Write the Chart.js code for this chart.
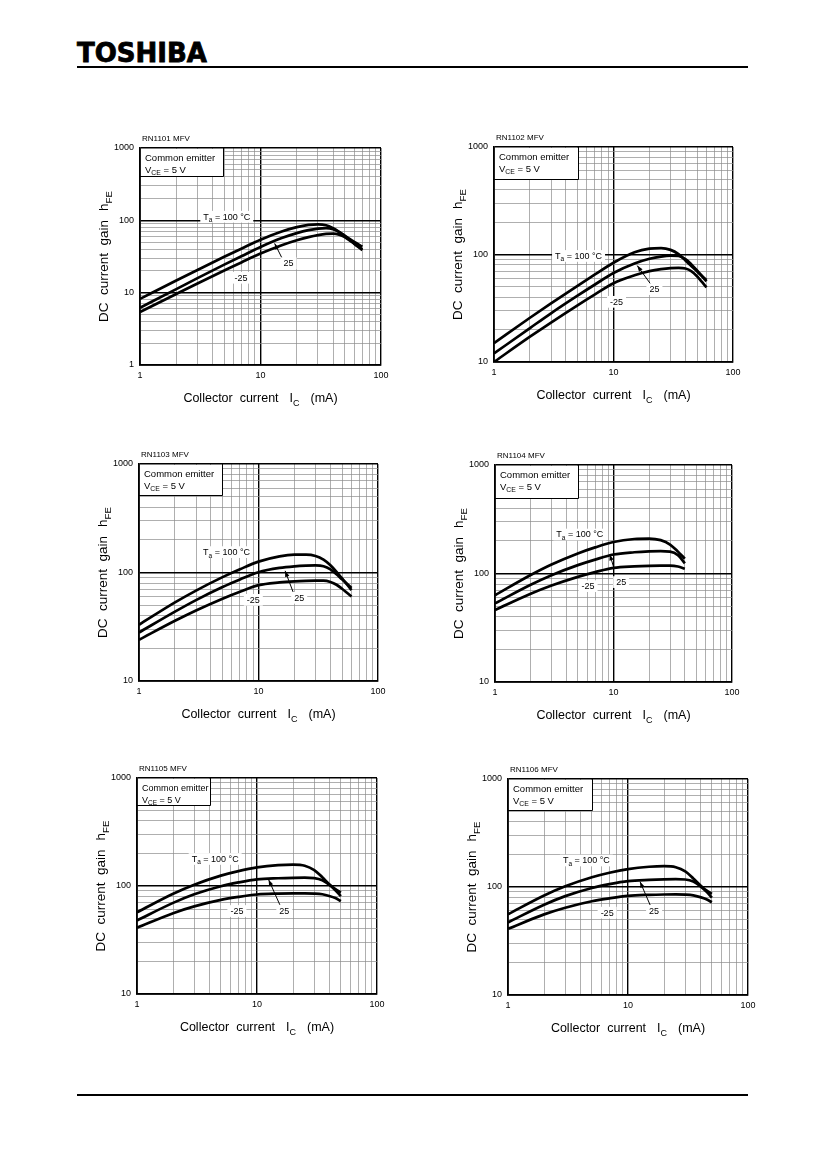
<!DOCTYPE html>
<html><head><meta charset="utf-8">
<script src="https://cdn.jsdelivr.net/npm/chart.js@4.4.1/dist/chart.umd.min.js"></script>
<style>
html,body{margin:0;padding:0;background:#fff;}
body{width:827px;height:1169px;position:relative;overflow:hidden;font-family:"Liberation Sans",Arial,sans-serif;}
.logo{position:absolute;left:77px;top:38px;font-family:"DejaVu Sans",sans-serif;font-weight:bold;font-size:26px;line-height:30px;color:#000;white-space:nowrap;-webkit-text-stroke:0.8px #000;}
.hline{position:absolute;left:77px;width:671px;background:#000;}
canvas{position:absolute;}
</style></head><body>
<div class="logo">TOSHIBA</div>
<div class="hline" style="top:66px;height:1.5px"></div>
<div class="hline" style="top:1094px;height:2px"></div>
<script>
// ---------- data ----------
const modelNames = ['RN1101 MFV','RN1102 MFV','RN1103 MFV','RN1104 MFV','RN1105 MFV','RN1106 MFV'];
const seriesNames = ['Ta = 100 °C','25','-25'];
const xTickLabels = [1, 10, 100];
const yTickLabelsWide = [1, 10, 100, 1000];
const yTickLabels = [10, 100, 1000];

// RN1101  (IC in mA, hFE)
const ic1      = [1, 2, 3, 5, 7, 10, 15, 20, 25, 30, 35, 40, 45, 50, 60, 70];
const hfe1_100 = [8.2, 14.7, 20.6, 31.3, 40.9, 53.9, 70.0, 80.4, 86.3, 88.1, 85.5, 77.8, 69.2, 61.5, 50.4, 43.2];
const hfe1_25  = [6.2, 11.2, 15.9, 24.4, 32.1, 42.8, 56.8, 66.5, 73.1, 76.9, 78.2, 75.5, 68.7, 60.5, 47.8, 39.7];
const hfe1_m25 = [5.4, 9.6, 13.4, 20.2, 26.4, 34.7, 45.3, 53.1, 58.7, 62.6, 64.9, 65.3, 63.4, 58.9, 47.3, 38.7];
// RN1102
const ic2      = [1, 2, 3, 5, 7, 10, 15, 20, 25, 30, 35, 40, 45, 50, 55, 60];
const hfe2_100 = [15, 25.8, 35.1, 51.2, 65.2, 83.8, 104.7, 113.2, 114.5, 110.4, 100.7, 88.1, 77.8, 69.7, 63.1, 57.8];
const hfe2_25  = [12, 20.7, 28.4, 41.4, 52.6, 67.3, 82.4, 91.2, 95.7, 97.5, 96.8, 90.6, 80.5, 71.0, 62.8, 56.1];
const hfe2_m25 = [10, 17.2, 23.3, 33.7, 42.6, 54.1, 64.1, 70.0, 73.1, 74.7, 75.0, 74.0, 69.7, 62.7, 55.5, 49.5];
// RN1103
const ic3      = [1, 2, 3, 5, 7, 10, 15, 20, 25, 30, 35, 40, 45, 50, 55, 60];
const hfe3_100 = [33, 53, 68.1, 90.6, 107.2, 125.9, 141, 145.9, 145.9, 141.9, 131.2, 116.4, 101.2, 88.1, 77.6, 68.7];
const hfe3_25  = [28, 43.6, 55.7, 73.5, 86.3, 100.7, 110.2, 114, 115.6, 116.1, 114.3, 106.9, 96.2, 86.5, 78.7, 72.1];
const hfe3_m25 = [24, 35.9, 44.7, 57.4, 66.5, 76.4, 81.1, 83, 83.8, 84.1, 84.1, 81.8, 77.1, 70.8, 65, 60.1];
// RN1104
const ic4      = [1, 2, 3, 5, 7, 10, 15, 20, 25, 30, 35, 40];
const hfe4_100 = [63, 96.8, 121, 153, 174, 195, 208, 210, 203, 185, 159, 137];
const hfe4_25  = [53, 78.7, 96.4, 119.4, 134.3, 149.6, 157, 160, 160.7, 159.2, 147.6, 124.2];
const hfe4_m25 = [46, 65, 77.4, 93.1, 103, 112.7, 116.4, 117.8, 118.1, 118.1, 115.9, 110.7];
// RN1105
const ic5      = [1, 2, 3, 5, 7, 10, 15, 20, 25, 30, 35, 40, 45, 50];
const hfe5_100 = [57, 84.7, 102.8, 124.7, 137.4, 148.6, 156, 157.8, 154.2, 140.6, 120.5, 104, 93.5, 86.9];
const hfe5_25  = [48, 69.8, 83.8, 99.6, 107.9, 115.1, 118, 119.1, 119.4, 118.3, 113, 102.8, 91.4, 80.5];
const hfe5_m25 = [41, 56, 64.7, 74.3, 79.2, 83.4, 85.1, 85.6, 85.6, 85.1, 83.8, 80.9, 77.3, 72.4];
// RN1106
const ic6      = [1, 2, 3, 5, 7, 10, 15, 20, 25, 30, 35, 40, 45, 50];
const hfe6_100 = [56, 83.5, 101.5, 123, 135.5, 146.5, 154, 156, 152.5, 139.5, 120, 104, 93, 86.5];
const hfe6_25  = [47, 68.5, 82.3, 98, 106.3, 113.4, 116.5, 117.8, 118.2, 117.3, 112.2, 102, 90.6, 79.6];
const hfe6_m25 = [41, 55.8, 64.3, 73.8, 78.6, 82.8, 84.6, 85.2, 85.3, 84.9, 83.6, 80.6, 77, 72.2];

// ---------- layout (page positions of each plot area) ----------
const FONT = '"Liberation Sans", Arial, sans-serif';
const panels = [
  {name: modelNames[0], rect: [140,148,381,365], yMin: 1,  yLabels: yTickLabelsWide, ic: ic1, s: [hfe1_100,hfe1_25,hfe1_m25], box: [83,28,9.5],
   ta: [5.25,113], n25: [17.1,25.6], arr: [[15,30.6],[13.1,48]], m25: [6.9,16.2]},
  {name: modelNames[1], rect: [494,147,733,362], yMin: 10, yLabels: yTickLabels, ic: ic2, s: [hfe2_100,hfe2_25,hfe2_m25], box: [84,32,9.5],
   ta: [5.1,97.5], n25: [22,47.9], arr: [[20.5,52.9],[15.8,78.8]], m25: [10.6,36.5]},
  {name: modelNames[2], rect: [139,464,378,681], yMin: 10, yLabels: yTickLabels, ic: ic3, s: [hfe3_100,hfe3_25,hfe3_m25], box: [83,31,9.5],
   ta: [5.4,155], n25: [21.9,58.8], arr: [[19.6,64.9],[16.7,103.6]], m25: [9.05,56.3]},
  {name: modelNames[3], rect: [495,465,732,682], yMin: 10, yLabels: yTickLabels, ic: ic4, s: [hfe4_100,hfe4_25,hfe4_m25], box: [83,33,9.5],
   ta: [5.2,230], n25: [11.6,83.8], arr: [[10.07,112.8],[9.3,150]], m25: [6.1,76.9]},
  {name: modelNames[4], rect: [137,778,377,994], yMin: 10, yLabels: yTickLabels, ic: ic5, s: [hfe5_100,hfe5_25,hfe5_m25], box: [73,27,9],
   ta: [4.48,179], n25: [16.9,59], arr: [[15.5,67],[12.5,114.5]], m25: [6.8,59]},
  {name: modelNames[5], rect: [508,779,748,995], yMin: 10, yLabels: yTickLabels, ic: ic6, s: [hfe6_100,hfe6_25,hfe6_m25], box: [84,31,9.5],
   ta: [4.5,177], n25: [16.5,60.4], arr: [[15.3,68],[12.6,112]], m25: [6.7,58.2]}
];
const PL = 70, PT = 30, PR = 20, PB = 50;

function gridValues(min, max) {
  const out = [];
  for (let d = min; d < max; d *= 10) for (let k = 1; k < 10; k++) out.push(d * k);
  out.push(max);
  return out;
}
function isMajor(v) { const l = Math.log10(v); return Math.abs(l - Math.round(l)) < 1e-9; }

// draw a run of text parts (normal / subscript) starting at x on baseline y; returns width
function drawParts(ctx, parts, x, y, size, measureOnly) {
  let cx = x;
  for (const p of parts) {
    if (p.gap) { cx += p.gap; continue; }
    const fs = p.sub ? size * 0.72 : size;
    ctx.font = fs + 'px ' + FONT;
    if (!measureOnly) ctx.fillText(p.t, cx, p.sub ? y + size * 0.28 : y);
    cx += ctx.measureText(p.t).width;
  }
  return cx - x;
}

function labelAt(ctx, chart, pos, parts, size) {
  const x = chart.scales.x.getPixelForValue(pos[0]);
  const y = chart.scales.y.getPixelForValue(pos[1]);
  ctx.textAlign = 'left'; ctx.textBaseline = 'alphabetic';
  const w = drawParts(ctx, parts, 0, 0, size, true);
  ctx.fillStyle = '#fff';
  ctx.fillRect(x - w / 2 - 3, y - size * 0.62, w + 6, size * 1.3);
  ctx.fillStyle = '#000';
  drawParts(ctx, parts, x - w / 2, y + size * 0.36, size);
}

const decorPlugin = {
  id: 'decor',
  beforeDatasetsDraw(chart) {
    const p = chart.options.plugins.decor.panel;
    const ctx = chart.ctx, a = chart.chartArea;
    const [bw, bh, fs] = p.box;
    ctx.save();
    ctx.fillStyle = '#fff';
    ctx.fillRect(a.left + 1, a.top + 1, bw - 1, bh - 1);
    ctx.strokeStyle = '#000'; ctx.lineWidth = 1;
    ctx.beginPath();
    ctx.moveTo(a.left + bw + 0.5, a.top); ctx.lineTo(a.left + bw + 0.5, a.top + bh + 0.5);
    ctx.lineTo(a.left, a.top + bh + 0.5);
    ctx.stroke();
    ctx.fillStyle = '#000'; ctx.textAlign = 'left'; ctx.textBaseline = 'alphabetic';
    drawParts(ctx, [{t: 'Common emitter'}], a.left + 5, a.top + 13, fs);
    drawParts(ctx, [{t: 'V'}, {t: 'CE', sub: true}, {t: ' = 5 V'}], a.left + 5, a.top + 24.5, fs);
    ctx.restore();
  },
  afterDatasetsDraw(chart) {
    const p = chart.options.plugins.decor.panel;
    const ctx = chart.ctx;
    ctx.save();
    const xs = chart.scales.x, ys = chart.scales.y;
    const x0 = xs.getPixelForValue(p.arr[0][0]), y0 = ys.getPixelForValue(p.arr[0][1]);
    const x1 = xs.getPixelForValue(p.arr[1][0]), y1 = ys.getPixelForValue(p.arr[1][1]);
    ctx.strokeStyle = '#000'; ctx.lineWidth = 1;
    ctx.beginPath(); ctx.moveTo(x0, y0); ctx.lineTo(x1, y1); ctx.stroke();
    const ang = Math.atan2(y1 - y0, x1 - x0);
    ctx.fillStyle = '#000';
    ctx.beginPath();
    ctx.moveTo(x1, y1);
    ctx.lineTo(x1 - 6 * Math.cos(ang) + 2.2 * Math.sin(ang), y1 - 6 * Math.sin(ang) - 2.2 * Math.cos(ang));
    ctx.lineTo(x1 - 6 * Math.cos(ang) - 2.2 * Math.sin(ang), y1 - 6 * Math.sin(ang) + 2.2 * Math.cos(ang));
    ctx.closePath(); ctx.fill();
    labelAt(ctx, chart, p.ta, [{t: 'T'}, {t: 'a', sub: true}, {t: seriesNames[0].slice(2)}], 9);
    labelAt(ctx, chart, p.n25, [{t: seriesNames[1]}], 9);
    labelAt(ctx, chart, p.m25, [{t: seriesNames[2]}], 9);
    ctx.restore();
  },
  afterDraw(chart) {
    const p = chart.options.plugins.decor.panel;
    const ctx = chart.ctx, a = chart.chartArea;
    ctx.save();
    ctx.fillStyle = '#000'; ctx.textAlign = 'left'; ctx.textBaseline = 'alphabetic';
    drawParts(ctx, [{t: p.name}], a.left + 2, a.top - 7, 8);
    const xp = [{t: 'Collector  current'}, {gap: 11}, {t: 'I'}, {t: 'C', sub: true}, {gap: 11}, {t: '(mA)'}];
    const xw = drawParts(ctx, xp, 0, 0, 12.5, true);
    drawParts(ctx, xp, (a.left + a.right) / 2 - xw / 2, a.bottom + 37, 12.5);
    const yp = [{t: 'DC  current  gain'}, {gap: 9}, {t: 'h'}, {t: 'FE', sub: true}];
    const yw = drawParts(ctx, yp, 0, 0, 13.5, true);
    ctx.translate(a.left - 32, (a.top + a.bottom) / 2 + yw / 2);
    ctx.rotate(-Math.PI / 2);
    drawParts(ctx, yp, 0, 0, 13.5);
    ctx.restore();
  }
};

function axisOpts(min, max, labels, fitFn) {
  return {
    type: 'logarithmic', min: min, max: max,
    afterBuildTicks: s => { s.ticks = gridValues(min, max).map(v => ({value: v})); },
    afterFit: fitFn,
    grid: {
      drawTicks: false,
      color: c => (c.tick && isMajor(c.tick.value)) ? '#000' : '#8c8c8c',
      lineWidth: c => (c.tick && isMajor(c.tick.value)) ? 1.4 : 0.7
    },
    border: {display: true, color: '#000', width: 1.8},
    ticks: {
      autoSkip: false, maxRotation: 0, minRotation: 0, color: '#000',
      font: {size: 9, family: FONT},
      callback: v => labels.includes(v) ? String(v) : ''
    }
  };
}

panels.forEach(p => {
  const [L, T, R, B] = p.rect;
  const cv = document.createElement('canvas');
  const w = (R - L) + PL + PR, h = (B - T) + PT + PB;
  cv.width = w; cv.height = h;
  cv.style.left = (L - PL) + 'px'; cv.style.top = (T - PT) + 'px';
  cv.style.width = w + 'px'; cv.style.height = h + 'px';
  document.body.appendChild(cv);
  const xo = axisOpts(1, 100, xTickLabels, s => { s.height = PB; });
  xo.ticks.padding = 5;
  const yo = axisOpts(p.yMin, 1000, p.yLabels, s => { s.width = PL; });
  yo.ticks.padding = 6;
  new Chart(cv, {
    type: 'line',
    data: {
      datasets: p.s.map((vals, i) => ({
        label: seriesNames[i],
        data: p.ic.map((c, j) => ({x: c, y: vals[j]})),
        borderColor: '#000', borderWidth: 2.7, pointRadius: 0, fill: false,
        cubicInterpolationMode: 'monotone'
      }))
    },
    options: {
      responsive: false, animation: false, devicePixelRatio: 1,
      layout: {padding: {top: PT, right: PR, left: 0, bottom: 0}},
      plugins: {legend: {display: false}, tooltip: {enabled: false}, decor: {panel: p}},
      scales: {x: xo, y: yo}
    },
    plugins: [decorPlugin]
  });
});
</script>
</body></html>
